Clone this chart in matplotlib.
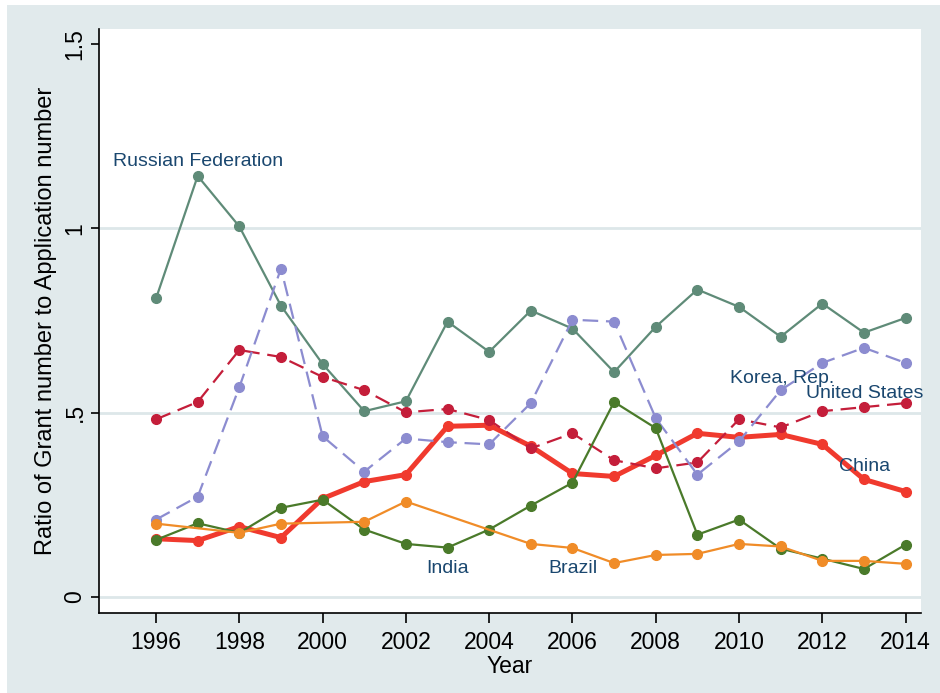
import matplotlib.pyplot as plt
from matplotlib.patches import Rectangle

years = list(range(1996, 2015))

russia = [0.81, 1.142, 1.005, 0.79, 0.632, 0.504, 0.531, 0.747, 0.665, 0.777,
          0.728, 0.61, 0.733, 0.834, 0.787, 0.706, 0.796, 0.717, 0.757]
usa = [0.482, 0.529, 0.670, 0.651, 0.597, 0.561, 0.501, 0.51, 0.48, 0.403,
       0.444, 0.371, 0.349, 0.365, 0.482, 0.46, 0.504, 0.515, 0.526]
korea = [0.21, 0.272, 0.569, 0.891, 0.436, 0.34, 0.43, 0.42, 0.414, 0.526,
         0.752, 0.747, 0.485, 0.332, 0.422, 0.561, 0.635, 0.676, 0.635]
china = [0.158, 0.153, 0.191, 0.161, 0.267, 0.313, 0.332, 0.463, 0.466, 0.409,
         0.335, 0.327, 0.384, 0.444, 0.433, 0.441, 0.414, 0.319, 0.286]
india = [0.155, 0.2, 0.174, 0.242, 0.264, 0.183, 0.144, 0.134, 0.183, 0.248,
         0.31, 0.529, 0.458, 0.169, 0.21, 0.131, 0.104, 0.076, 0.142]
# Brazil has gaps (1997, 2000, 2003, 2004)
brazil_years = [1996, 1998, 1999, 2001, 2002, 2005, 2006, 2007, 2008, 2009,
                2010, 2011, 2012, 2013, 2014]
brazil = [0.199, 0.174, 0.199, 0.204, 0.259, 0.144, 0.133, 0.092, 0.114, 0.117,
          0.144, 0.137, 0.098, 0.098, 0.09]

label_col = '#1a476f'
plt.rcParams['font.family'] = ['Liberation Sans', 'DejaVu Sans']

fig = plt.figure(figsize=(9.4, 6.93), dpi=100, facecolor='white')
# light grey graph region (thin white edge top/left like the original scan)
fig.patches.append(Rectangle((7 / 940, 0), 1, 1 - 5 / 693, transform=fig.transFigure,
                             facecolor='#e1eaec', edgecolor='none', zorder=-10))

ax = fig.add_axes([99 / 940, 1 - 613 / 693, (921 - 99) / 940, (613 - 29) / 693])
ax.set_facecolor('white')

for y in [0, 0.5, 1]:
    ax.axhline(y, color='#dde7e9', lw=2, zorder=0)

ax.plot(years, china, color='#f03a2e', lw=3.6, marker='o', ms=7, zorder=2)
ax.plot(years, russia, color='#5f8b78', lw=1.6, marker='o', ms=7, zorder=3)
ax.plot(years, usa, color='#c41e3a', lw=1.6, ls=(0, (7, 3.5)), marker='o', ms=7, zorder=3)
ax.plot(years, korea, color='#8c8cd0', lw=1.6, ls=(0, (7, 3.5)), marker='o', ms=7, zorder=3)
ax.plot(years, india, color='#4a7a2a', lw=1.6, marker='o', ms=7, zorder=4)
ax.plot(brazil_years, brazil, color='#f08c28', lw=1.6, marker='o', ms=7, zorder=5)

ax.text(1994.97, 1.18, 'Russian Federation', color=label_col, fontsize=14, ha='left', va='center', zorder=6)
ax.text(2009.78, 0.594, 'Korea, Rep.', color=label_col, fontsize=14, ha='left', va='center', zorder=6)
ax.text(2011.6, 0.553, 'United States', color=label_col, fontsize=14, ha='left', va='center', zorder=6)
ax.text(2012.39, 0.355, 'China', color=label_col, fontsize=14, ha='left', va='center', zorder=6)
ax.text(2002.5, 0.076, 'India', color=label_col, fontsize=14, ha='left', va='center', zorder=6)
ax.text(2005.43, 0.076, 'Brazil', color=label_col, fontsize=14, ha='left', va='center', zorder=6)

ax.set_xlim(1994.63, 2014.37)
ax.set_ylim(-0.0434, 1.5407)
ax.set_xticks(range(1996, 2015, 2))
ax.set_yticks([0, 0.5, 1, 1.5])
ax.set_yticklabels(['0', '.5', '1', '1.5'], rotation=90, va='center')

for s in ['top', 'right']:
    ax.spines[s].set_visible(False)
for s in ['left', 'bottom']:
    ax.spines[s].set_color('black')
    ax.spines[s].set_linewidth(1.2)
ax.tick_params(axis='x', direction='out', length=7, width=1.2, labelsize=16.5, pad=6)
ax.tick_params(axis='y', direction='out', length=6, width=1.2, labelsize=16.5, pad=3)

ax.set_xlabel('Year', fontsize=16.5, labelpad=1)
ax.set_ylabel('Ratio of Grant number to Application number', fontsize=17, labelpad=4.5)

fig.savefig('out.png', dpi=100, facecolor=fig.get_facecolor())
